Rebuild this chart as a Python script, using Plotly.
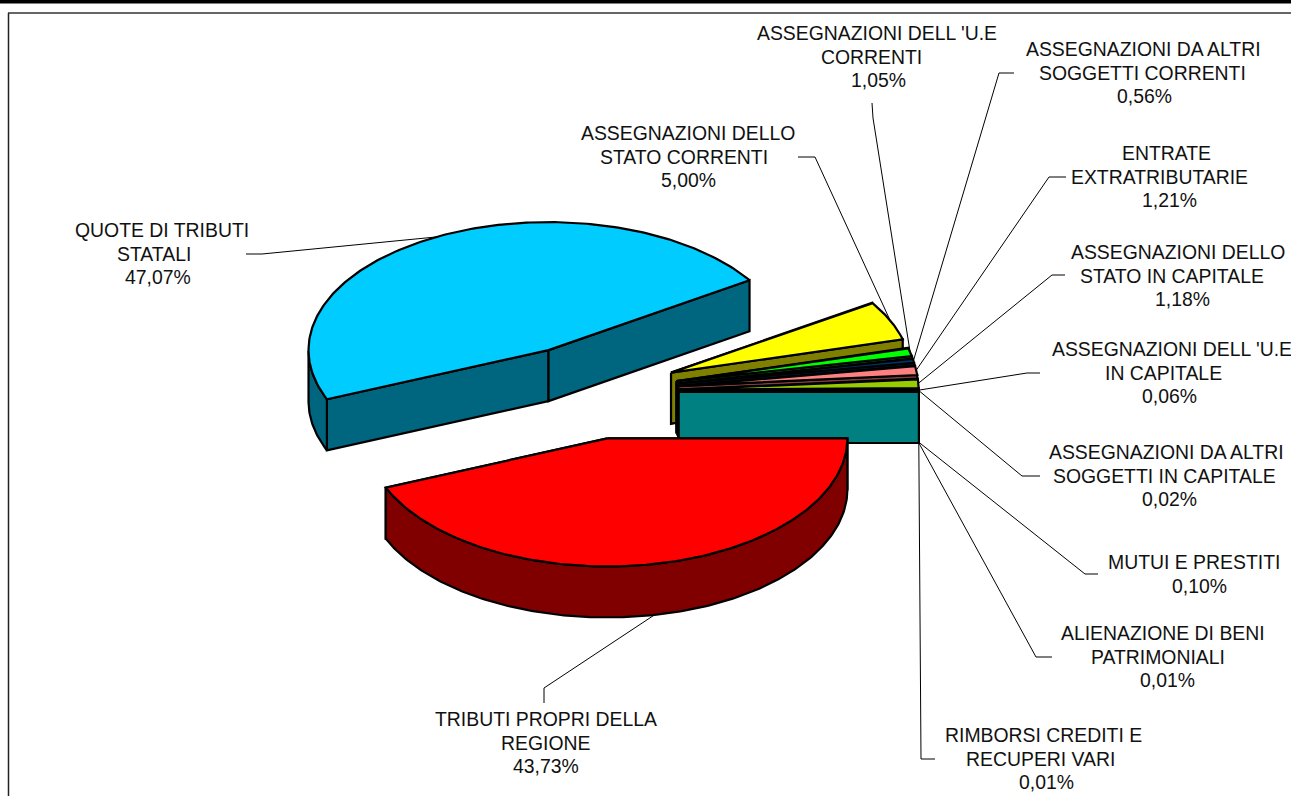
import numpy as np
import plotly.graph_objects as go

categories = [
    "TRIBUTI PROPRI DELLA|REGIONE", "QUOTE DI TRIBUTI|STATALI",
    "ASSEGNAZIONI DELLO|STATO CORRENTI", "ASSEGNAZIONI DELL 'U.E|CORRENTI",
    "ASSEGNAZIONI DA ALTRI|SOGGETTI CORRENTI", "ENTRATE|EXTRATRIBUTARIE",
    "ASSEGNAZIONI DELLO|STATO IN CAPITALE", "ASSEGNAZIONI DELL 'U.E|IN CAPITALE",
    "ASSEGNAZIONI DA ALTRI|SOGGETTI IN CAPITALE", "MUTUI E PRESTITI",
    "ALIENAZIONE DI BENI|PATRIMONIALI", "RIMBORSI CREDITI E|RECUPERI VARI",
]
values = [43.73, 47.07, 5.00, 1.05, 0.56, 1.21, 1.18, 0.06, 0.02, 0.10, 0.01, 0.01]

top_colors = ["#FF0000", "#00CCFF", "#FFFF00", "#00FF00", "#003366", "#FF8080",
              "#99CC00", "#000080", "#660066", "#993366", "#333333", "#00FFFF"]
wall_colors = ["#800000", "#006680", "#808000", "#008000", "#001A33", "#804040",
               "#4D6600", "#000040", "#330033", "#4D1A33", "#1A1A1A", "#008080"]

# Projection of the 3D pie, in page pixels
CX, CY, RX, RY, DEPTH, EXPLODE = 590.0, 392.0, 240.0, 128.0, 51.0, 0.37
FONT = "Liberation Sans"
FS, LH = 19.4, 23.6

# centre x of each text line, first line y, elbow / leader start points, attach on wall?
label_layout = [
    ([546, 545, 546], 719, [(544, 703), (544, 688)], True),
    ([162, 154, 158], 230, [(246, 254), (262, 254)], False),
    ([688, 684, 688], 133, [(798, 157), (815, 157)], False),
    ([877, 871, 878], 33, [(872, 103), (873, 118)], False),
    ([1143, 1142, 1144], 49, [(1014, 73), (999, 73)], False),
    ([1166, 1159, 1169], 153, [(1066, 177), (1049, 177)], False),
    ([1178, 1172, 1182], 252, [(1065, 275), (1052, 275)], False),
    ([1172, 1163, 1169], 349, [(1040, 373), (1027, 373)], False),
    ([1166, 1164, 1169], 452, [(1040, 476), (1022, 476)], False),
    ([1194, 1199], 562, [(1098, 574), (1085, 574)], True),
    ([1163, 1158, 1167], 633, [(1052, 657), (1036, 657)], True),
    ([1043, 1040, 1046], 735, [(935, 759), (921, 759)], True),
]

total = sum(values)
fracs = np.array(values) / total
edges = -np.concatenate([[0], np.cumsum(fracs)]) * 2 * np.pi  # clockwise from +x


def pt(c, t, dz=0.0):
    return c[0] + RX * np.cos(t), c[1] - RY * np.sin(t) + dz


fig = go.Figure()


def poly(xs, ys, fill, lw=2.2):
    fig.add_trace(go.Scatter(x=xs, y=ys, mode="lines", fill="toself", fillcolor=fill,
                             line=dict(color="black", width=lw), hoverinfo="skip",
                             showlegend=False))


def draw(i):
    t0, t1 = edges[i], edges[i + 1]
    tm = (t0 + t1) / 2
    c = (CX + EXPLODE * RX * np.cos(tm), CY - EXPLODE * RY * np.sin(tm))
    lw = 2.2 if values[i] > 1 else 2.0
    for t in (t0, t1):  # radial walls
        x, y = pt(c, t)
        poly([c[0], x, x, c[0], c[0]], [c[1], y, y + DEPTH, c[1] + DEPTH, c[1]], wall_colors[i], lw)
    # outer wall where the rim faces the viewer
    ts = np.linspace(t0, t1, 200)
    front = ts[np.sin(ts) <= 0]
    if len(front) > 1:
        x, y = pt(c, front)
        poly(np.concatenate([x, x[::-1], x[:1]]),
             np.concatenate([y, y[::-1] + DEPTH, y[:1]]), wall_colors[i], lw)
    x, y = pt(c, ts)
    poly(np.concatenate([[c[0]], x, [c[0]]]), np.concatenate([[c[1]], y, [c[1]]]), top_colors[i], lw)
    return c, tm


# paint back to front: blue, then the thin slices from the top down, then red
order = [1] + list(range(2, len(values))) + [0]
centres = {}
for i in order:
    centres[i] = draw(i)

# leader lines
for i, (lx, ly, elbow, on_wall) in enumerate(label_layout):
    c, tm = centres[i]
    x, y = pt(c, tm, DEPTH if on_wall else 0.0)
    fig.add_trace(go.Scatter(x=[p[0] for p in elbow] + [x], y=[p[1] for p in elbow] + [y],
                             mode="lines", line=dict(color="black", width=1),
                             hoverinfo="skip", showlegend=False))

# labels
annotations = []
for i, (lx, ly, elbow, on_wall) in enumerate(label_layout):
    lines = categories[i].split("|") + [f"{values[i]:.2f}%".replace(".", ",")]
    for k, line in enumerate(lines):
        annotations.append(dict(x=lx[k], y=ly + k * LH, text=line, showarrow=False,
                                xref="x", yref="y", xanchor="center", yanchor="middle",
                                font=dict(family=FONT, size=FS, color="#111111")))

shapes = [
    dict(type="rect", xref="x", yref="y", x0=0, x1=1291, y0=0, y1=3.5,
         fillcolor="black", line=dict(width=0), layer="above"),
    dict(type="line", xref="x", yref="y", x0=8.5, x1=8.5, y0=13, y1=796,
         line=dict(color="#222222", width=1.5)),
    dict(type="line", xref="x", yref="y", x0=8, x1=1291, y0=13, y1=13,
         line=dict(color="#333333", width=1.5)),
]

fig.update_layout(
    width=1291, height=796, margin=dict(l=0, r=0, t=0, b=0),
    paper_bgcolor="white", plot_bgcolor="white", showlegend=False,
    xaxis=dict(range=[0, 1291], visible=False, fixedrange=True),
    yaxis=dict(range=[796, 0], visible=False, fixedrange=True),
    annotations=annotations, shapes=shapes,
)
fig.write_html("out.html", config={"displayModeBar": False},
               post_script="document.body.style.margin='0';document.body.style.overflow='hidden';")
